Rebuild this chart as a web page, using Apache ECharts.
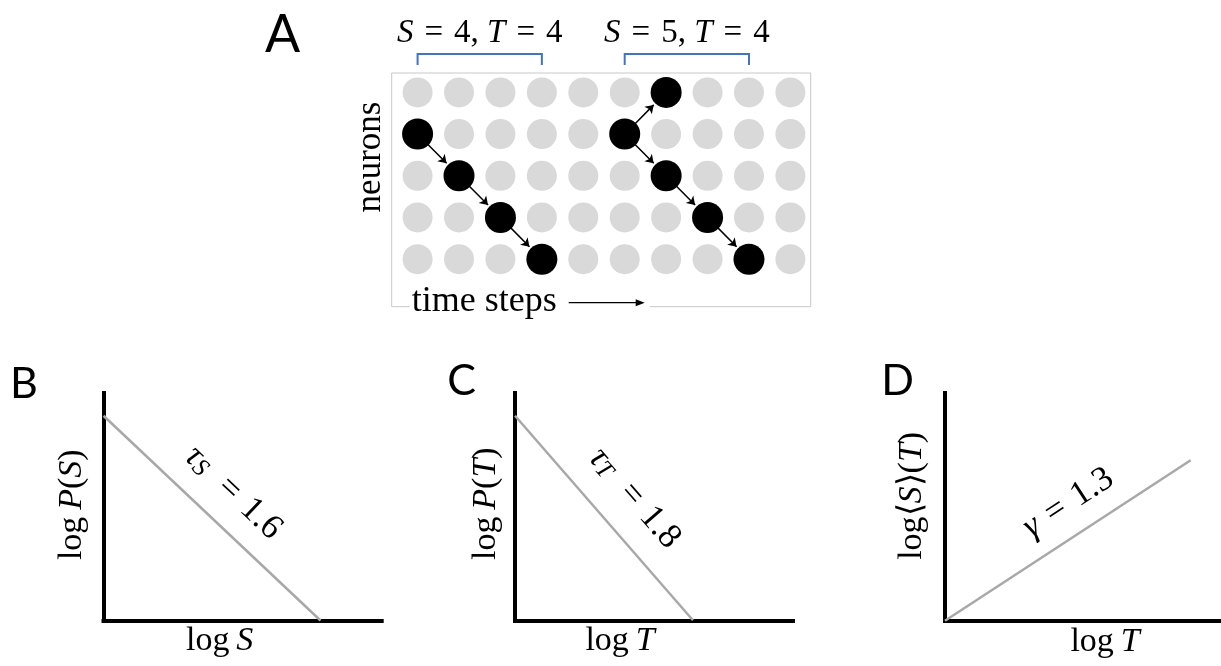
<!DOCTYPE html>
<html><head><meta charset="utf-8">
<script src="https://cdn.jsdelivr.net/npm/echarts@6/dist/echarts.min.js"></script>
<style>html,body{margin:0;padding:0;background:#fff;}#c{width:1221px;height:666px;}</style>
</head><body><div id="c"></div>
<script>
// ---------- Panel A data ----------
const timeSteps = [0, 1, 2, 3, 4, 5, 6, 7, 8, 9];
const neuronIds = [0, 1, 2, 3, 4];
// active cells: [time step, neuron]
const avalanche1 = [[0, 1], [1, 2], [2, 3], [3, 4]];
const avalanche2 = [[5, 1], [6, 0], [6, 2], [7, 3], [8, 4]];
// propagation links: [from, to]
const links = [
  [[0, 1], [1, 2]], [[1, 2], [2, 3]], [[2, 3], [3, 4]],
  [[5, 1], [6, 0]], [[5, 1], [6, 2]], [[6, 2], [7, 3]], [[7, 3], [8, 4]]
];
const episodeStart = [0, 5];
const episodeEnd = [3, 8];
const episodeSize = [4, 5];
const episodeDuration = [4, 4];

// ---------- Panels B-D data ----------
const lineB = [[0, 9.0], [7.8, 0]];
const lineC = [[0, 9.0], [6.4, 0]];
const lineD = [[0, 0], [8.9, 7.05]];
const exponentSymbols = ['{g|τ}{sub|S}', '{g|τ}{sub|T}', '{g|γ}'];
const exponentValues = [1.6, 1.8, 1.3];
const panelLetters = ['A', 'B', 'C', 'D'];

// ---------- styles ----------
const SERIF = '"Liberation Serif","Times New Roman",serif';
const SANS = 'Lato,"Open Sans",sans-serif';
const NAME_FS = 34;
const EXP_FS = 35;
const TS = '\u2009', HS = '\u200A';
function rich(fs) {
  return {
    r: {fontFamily: SERIF, fontSize: fs, color: '#000'},
    i: {fontFamily: SERIF, fontStyle: 'italic', fontSize: fs, color: '#000'},
    g: {fontFamily: SERIF, fontStyle: 'italic', fontSize: fs, color: '#000'},
    sub: {fontFamily: SERIF, fontStyle: 'italic', fontSize: Math.round(fs * 0.72), color: '#000', verticalAlign: 'bottom', padding: [0, 8, 0, 0]}
  };
}

const allCells = [];
timeSteps.forEach(t => neuronIds.forEach(n => allCells.push([t, n])));
const arrowData = links.map(([a, b]) => {
  const f0 = 0.25, f1 = 0.70;
  return {coords: [
    [a[0] + (b[0] - a[0]) * f0, a[1] + (b[1] - a[1]) * f0],
    [a[0] + (b[0] - a[0]) * f1, a[1] + (b[1] - a[1]) * f1]
  ]};
});

function panelAxis(gi, name, gap, pad) {
  return {
    type: 'value', gridIndex: gi, min: 0, max: 10,
    axisLine: {show: true, onZero: false, lineStyle: {color: '#000', width: 4, cap: 'square'}},
    axisTick: {show: false}, axisLabel: {show: false}, splitLine: {show: false},
    name: name, nameLocation: 'middle', nameGap: gap,
    nameTextStyle: {rich: rich(NAME_FS), padding: pad}
  };
}

const chart = echarts.init(document.getElementById('c'));
chart.setOption({
  animation: false,
  backgroundColor: '#fff',
  grid: [
    {left: 391.7, top: 73, width: 419, height: 233.7, show: true, borderColor: '#c8c8c8', borderWidth: 1, backgroundColor: 'transparent'},
    {left: 103.5, top: 393, width: 278.2, height: 227.5},
    {left: 515, top: 393, width: 278, height: 227.3},
    {left: 945, top: 393, width: 276, height: 227.7}
  ],
  xAxis: [
    {type: 'value', gridIndex: 0, min: -0.625, max: 9.49, show: false},
    panelAxis(1, '{r|log' + TS + '}{i|S}', 4, [0, 46, 0, 0]),
    panelAxis(2, '{r|log' + TS + '}{i|T}', 4, [0, 68, 0, 0]),
    panelAxis(3, '{r|log' + TS + '}{i|T}', 4, [0, 0, 0, 44])
  ],
  yAxis: [
    {type: 'value', gridIndex: 0, min: -0.465, max: 5.14, inverse: true, show: false},
    panelAxis(1, '{r|log' + TS + '}{i|P}{r|(}{i|S}{r|)}', 14, [0, 0, 0, 4]),
    panelAxis(2, '{r|log' + TS + '}{i|P}{r|(}{i|T}{r|)}', 12, [0, 0, 0, 6]),
    panelAxis(3, '{r|log⟨}{i|S}{r|⟩(}{i|T}{r|)}', 16, [0, 0, 0, 22])
  ],
  series: [
    {type: 'scatter', xAxisIndex: 0, yAxisIndex: 0, data: allCells, symbolSize: 30, itemStyle: {color: '#d9d9d9', opacity: 1}, silent: true, z: 2},
    {type: 'scatter', xAxisIndex: 0, yAxisIndex: 0, data: avalanche1.concat(avalanche2), symbolSize: 31, itemStyle: {color: '#000', opacity: 1}, silent: true, z: 3},
    {type: 'lines', coordinateSystem: 'cartesian2d', xAxisIndex: 0, yAxisIndex: 0, data: arrowData,
      symbol: ['none', 'arrow'], symbolSize: 8, lineStyle: {color: '#000', width: 1.5, opacity: 1}, silent: true, z: 4},
    {type: 'custom', xAxisIndex: 0, yAxisIndex: 0, silent: true, z: 5,
      data: episodeStart.map((s, i) => [s, episodeEnd[i], episodeSize[i], episodeDuration[i]]),
      renderItem: function (params, api) {
        const x0 = api.coord([api.value(0), 0])[0];
        const x1 = api.coord([api.value(1), 0])[0];
        const top = params.coordSys.y;
        return {type: 'group', children: [
          {type: 'polyline', shape: {points: [[x0, top - 8], [x0, top - 19], [x1, top - 19], [x1, top - 8]]},
            style: {stroke: '#4472c4', lineWidth: 2, fill: 'none'}},
          {type: 'text', style: {x: (x0 + x1) / 2, y: top - 40, align: 'center', verticalAlign: 'middle',
            text: '{i|S}{r| ' + HS + '=' + HS + ' ' + api.value(2) + ', }{i|T}{r| ' + HS + '=' + HS + ' ' + api.value(3) + '}',
            rich: rich(33)}}
        ]};
      }},
    {type: 'line', xAxisIndex: 1, yAxisIndex: 1, data: lineB, showSymbol: false, lineStyle: {color: '#a8a8a8', width: 2.5}, silent: true},
    {type: 'line', xAxisIndex: 2, yAxisIndex: 2, data: lineC, showSymbol: false, lineStyle: {color: '#a8a8a8', width: 2.5}, silent: true},
    {type: 'line', xAxisIndex: 3, yAxisIndex: 3, data: lineD, showSymbol: false, lineStyle: {color: '#a8a8a8', width: 2.5}, silent: true}
  ]
});

// ---------- annotations placed through the library's scales ----------
const graphics = [];
const letterPos = [[282.5, 35, 52], [24, 384, 43], [461.5, 381, 43], [897.5, 381, 43]];
panelLetters.forEach((L, i) => {
  graphics.push({type: 'text', x: letterPos[i][0], y: letterPos[i][1], silent: true,
    style: {text: L, font: letterPos[i][2] + 'px ' + SANS, fill: '#000', align: 'center', verticalAlign: 'middle'}});
});
const gA = chart.convertToPixel({gridIndex: 0}, [-0.625, 5.14]);
graphics.push({type: 'text', x: 371, y: 157, rotation: Math.PI / 2, silent: true,
  style: {text: 'neurons', font: '35px ' + SERIF, fill: '#000', align: 'center', verticalAlign: 'middle'}});
graphics.push({type: 'rect', shape: {x: gA[0] + 18, y: gA[1] - 8, width: 240, height: 14}, style: {fill: '#fff'}, silent: true, z: 10});
graphics.push({type: 'text', x: gA[0] + 20, y: gA[1] - 5, silent: true, z: 11,
  style: {text: 'time steps', font: '36px ' + SERIF, fill: '#000', align: 'left', verticalAlign: 'middle'}});
graphics.push({type: 'line', shape: {x1: gA[0] + 177, y1: gA[1] - 4, x2: gA[0] + 246, y2: gA[1] - 4}, style: {stroke: '#000', lineWidth: 1.2}, silent: true, z: 11});
graphics.push({type: 'polygon', shape: {points: [[gA[0] + 253, gA[1] - 4], [gA[0] + 244, gA[1] - 7.5], [gA[0] + 244, gA[1] - 0.5]]}, style: {fill: '#000'}, silent: true, z: 11});

const panelLines = [lineB, lineC, lineD];
const labelOffsets = [[-2, 33], [5, 36], [21, 31]]; // [along, perpendicular] in px
panelLines.forEach((ln, i) => {
  const p0 = chart.convertToPixel({gridIndex: i + 1}, ln[0]);
  const p1 = chart.convertToPixel({gridIndex: i + 1}, ln[1]);
  const a = Math.atan2(p1[1] - p0[1], p1[0] - p0[0]);
  const mx = (p0[0] + p1[0]) / 2, my = (p0[1] + p1[1]) / 2;
  const along = labelOffsets[i][0], up = labelOffsets[i][1];
  const cx = mx + along * Math.cos(a) + up * Math.sin(a);
  const cy = my + along * Math.sin(a) - up * Math.cos(a);
  graphics.push({type: 'text', x: cx, y: cy, rotation: -a, silent: true,
    style: {text: exponentSymbols[i] + '{r| ' + HS + '=' + HS + ' ' + exponentValues[i] + '}', rich: rich(EXP_FS), align: 'center', verticalAlign: 'middle'}});
});
chart.setOption({graphic: graphics});
</script></body></html>
